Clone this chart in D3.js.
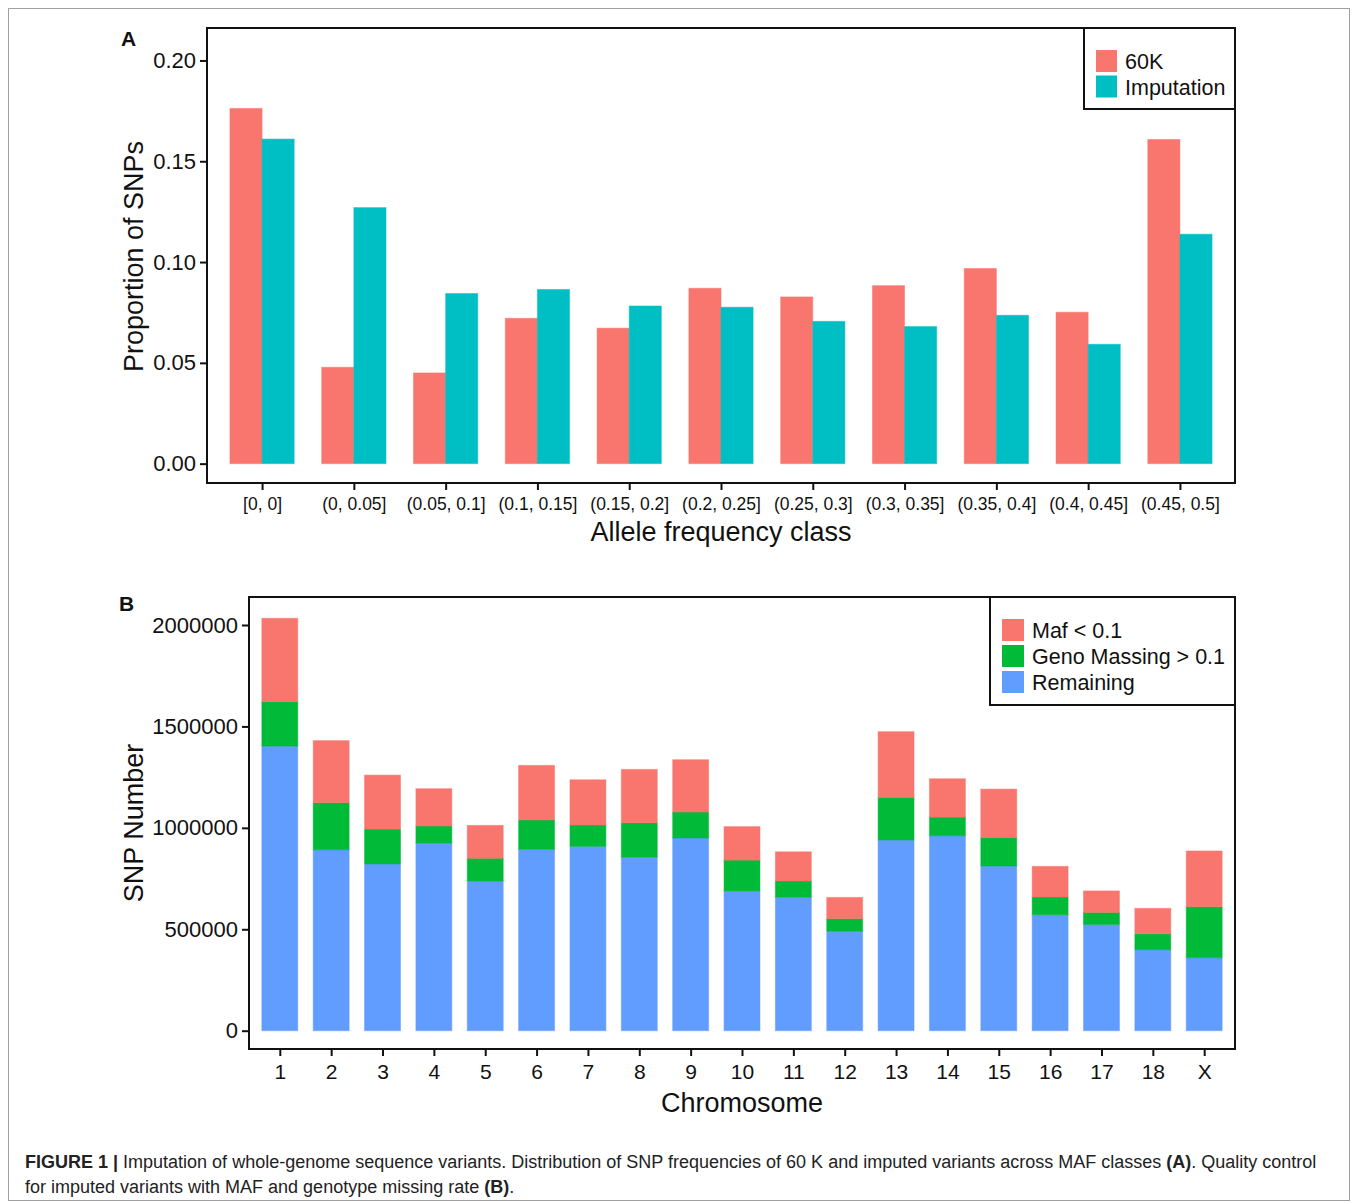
<!DOCTYPE html>
<html>
<head>
<meta charset="utf-8">
<script src="https://cdn.jsdelivr.net/npm/d3@7"></script>
<style>
  body { margin: 0; background: #fff; }
  text { font-family: "Liberation Sans", Arial, Helvetica, sans-serif; fill: #111; }
  .caption { font-family: "Liberation Sans Narrow", "Arial Narrow", "Liberation Sans", sans-serif; font-size: 18px; fill: #222; }
</style>
</head>
<body>
<svg id="fig" width="1358" height="1203"></svg>
<script>
// ---------- Panel A data ----------
const freqClasses = ['[0, 0]', '(0, 0.05]', '(0.05, 0.1]', '(0.1, 0.15]', '(0.15, 0.2]', '(0.2, 0.25]',
                     '(0.25, 0.3]', '(0.3, 0.35]', '(0.35, 0.4]', '(0.4, 0.45]', '(0.45, 0.5]'];
const chip60K = [0.1762, 0.0478, 0.0450, 0.0721, 0.0672, 0.0870, 0.0827, 0.0883, 0.0968, 0.0751, 0.1608];
const imputed = [0.1610, 0.1270, 0.0844, 0.0864, 0.0782, 0.0776, 0.0706, 0.0680, 0.0736, 0.0592, 0.1138];
const ticksA = [0, 0.05, 0.10, 0.15, 0.20];

// ---------- Panel B data ----------
const chromosomes = ['1','2','3','4','5','6','7','8','9','10','11','12','13','14','15','16','17','18','X'];
const remaining = [1403000, 892000, 822000, 925000, 738000, 894000, 909000, 856000, 950000, 689000,
                   659000, 490000, 940000, 961000, 812000, 572000, 524000, 399000, 360000];
const genoMissing = [219000, 232000, 172000, 84000, 112000, 145000, 105000, 169000, 128000, 152000,
                     79000, 62000, 210000, 92000, 140000, 87000, 59000, 79000, 251000];
const mafLow = [411000, 306000, 266000, 184000, 162000, 269000, 223000, 263000, 258000, 165000,
                144000, 105000, 324000, 189000, 239000, 151000, 106000, 125000, 275000];
const ticksB = [0, 500000, 1000000, 1500000, 2000000];

const RED = '#F8766D', TEAL = '#00BFC4', GREEN = '#00BA38', BLUE = '#619CFF';

const svg = d3.select('#fig');

// outer frame
svg.append('rect')
   .attr('x', 8.5).attr('y', 8.5).attr('width', 1341).attr('height', 1192)
   .attr('fill', 'none').attr('stroke', '#a0a0a0').attr('stroke-width', 1);

// discrete positions like ggplot: 0.6 unit expansion each side
function discreteScale(n, x0, x1) {
  return d3.scaleLinear().domain([-0.6, n - 1 + 0.6]).range([x0, x1]);
}

function drawFrame(g, x0, y0, x1, y1) {
  g.append('rect')
   .attr('x', x0).attr('y', y0).attr('width', x1 - x0).attr('height', y1 - y0)
   .attr('fill', 'none').attr('stroke', '#111').attr('stroke-width', 2);
}

/******************** Panel A ********************/
const A = {left: 207, right: 1235, top: 28, bottom: 483};
const xA = discreteScale(freqClasses.length, A.left, A.right);
const yA = d3.scaleLinear().domain([-0.0096, 0.2161]).range([A.bottom, A.top]);
const gA = svg.append('g');
const halfA = 0.35;

const seriesA = [{name: '60K', values: chip60K, color: RED, off: -halfA},
                 {name: 'Imputation', values: imputed, color: TEAL, off: 0}];
seriesA.forEach(s => {
  gA.selectAll(null).data(s.values).enter().append('rect')
    .attr('x', (d, i) => xA(i + s.off))
    .attr('width', xA(halfA) - xA(0))
    .attr('y', d => yA(d))
    .attr('height', d => yA(0) - yA(d))
    .attr('fill', s.color)
    .attr('stroke', s.color).attr('stroke-opacity', 0.5).attr('stroke-width', 1);
});

const axAy = gA.append('g').attr('transform', `translate(${A.left},0)`)
  .call(d3.axisLeft(yA).tickValues(ticksA).tickFormat(d3.format('.2f')).tickSize(7).tickSizeOuter(0).tickPadding(4));
const axAx = gA.append('g').attr('transform', `translate(0,${A.bottom})`)
  .call(d3.axisBottom(xA).tickValues(d3.range(freqClasses.length)).tickFormat(i => freqClasses[i])
        .tickSize(7).tickSizeOuter(0).tickPadding(8));
[axAy, axAx].forEach(a => {
  a.select('.domain').remove();
  a.selectAll('line').attr('stroke', '#111').attr('stroke-width', 2);
});
axAy.selectAll('text').style('font-size', '22px').attr('fill', '#111');
axAx.selectAll('text').style('font-size', '17.5px').attr('fill', '#111');
drawFrame(gA, A.left, A.top, A.right, A.bottom);

gA.append('text').attr('transform', `translate(143,${(A.top + A.bottom) / 2 + 1}) rotate(-90)`)
  .attr('text-anchor', 'middle').style('font-size', '27px').text('Proportion of SNPs');
gA.append('text').attr('x', (A.left + A.right) / 2).attr('y', 541)
  .attr('text-anchor', 'middle').style('font-size', '27px').text('Allele frequency class');
gA.append('text').attr('x', 121).attr('y', 46).style('font-size', '21px').style('font-weight', 'bold').text('A');

// legend A
const legA = gA.append('g');
legA.append('rect').attr('x', 1084).attr('y', 28).attr('width', 1235 - 1084).attr('height', 81)
    .attr('fill', '#fff').attr('stroke', '#111').attr('stroke-width', 2);
seriesA.forEach((s, i) => {
  legA.append('rect').attr('x', 1096).attr('y', 50 + i * 25.5).attr('width', 21).attr('height', 22)
      .attr('fill', s.color);
  legA.append('text').attr('x', 1125).attr('y', 69 + i * 25.5).style('font-size', '21.5px').text(s.name);
});

/******************** Panel B ********************/
const B = {left: 249, right: 1235, top: 597, bottom: 1049};
const xB = discreteScale(chromosomes.length, B.left, B.right);
const yB = d3.scaleLinear().domain([-90200, 2138000]).range([B.bottom, B.top]);
const gB = svg.append('g');
const halfB = 0.35;

const table = chromosomes.map((c, i) => ({chr: i, remaining: remaining[i], geno: genoMissing[i], maf: mafLow[i]}));
const stack = d3.stack().keys(['remaining', 'geno', 'maf'])(table);
const stackColors = {remaining: BLUE, geno: GREEN, maf: RED};

stack.forEach(layer => {
  gB.selectAll(null).data(layer).enter().append('rect')
    .attr('x', d => xB(d.data.chr - halfB))
    .attr('width', xB(halfB) - xB(-halfB))
    .attr('y', d => yB(d[1]))
    .attr('height', d => yB(d[0]) - yB(d[1]))
    .attr('fill', stackColors[layer.key])
    .attr('stroke', stackColors[layer.key]).attr('stroke-opacity', 0.5).attr('stroke-width', 1);
});

const axBy = gB.append('g').attr('transform', `translate(${B.left},0)`)
  .call(d3.axisLeft(yB).tickValues(ticksB).tickFormat(d3.format('d')).tickSize(7).tickSizeOuter(0).tickPadding(4));
const axBx = gB.append('g').attr('transform', `translate(0,${B.bottom})`)
  .call(d3.axisBottom(xB).tickValues(d3.range(chromosomes.length)).tickFormat(i => chromosomes[i])
        .tickSize(7).tickSizeOuter(0).tickPadding(8));
[axBy, axBx].forEach(a => {
  a.select('.domain').remove();
  a.selectAll('line').attr('stroke', '#111').attr('stroke-width', 2);
});
axBy.selectAll('text').style('font-size', '22px').attr('fill', '#111');
axBx.selectAll('text').style('font-size', '21px').attr('fill', '#111');
drawFrame(gB, B.left, B.top, B.right, B.bottom);

gB.append('text').attr('transform', `translate(143,${(B.top + B.bottom) / 2}) rotate(-90)`)
  .attr('text-anchor', 'middle').style('font-size', '27px').text('SNP Number');
gB.append('text').attr('x', (B.left + B.right) / 2).attr('y', 1112)
  .attr('text-anchor', 'middle').style('font-size', '27px').text('Chromosome');
gB.append('text').attr('x', 119).attr('y', 611).style('font-size', '21px').style('font-weight', 'bold').text('B');

// legend B
const legendB = [{name: 'Maf < 0.1', color: RED}, {name: 'Geno Massing > 0.1', color: GREEN}, {name: 'Remaining', color: BLUE}];
const legB = gB.append('g');
legB.append('rect').attr('x', 990).attr('y', 597).attr('width', 1235 - 990).attr('height', 108)
    .attr('fill', '#fff').attr('stroke', '#111').attr('stroke-width', 2);
legendB.forEach((s, i) => {
  legB.append('rect').attr('x', 1002).attr('y', 619 + i * 26).attr('width', 22).attr('height', 22)
      .attr('fill', s.color);
  legB.append('text').attr('x', 1032).attr('y', 638 + i * 26).style('font-size', '21.5px').text(s.name);
});

/******************** Caption ********************/
const cap1 = svg.append('text').attr('class', 'caption').attr('x', 25).attr('y', 1168);
cap1.append('tspan').style('font-weight', 'bold').text('FIGURE 1 | ');
cap1.append('tspan').text('Imputation of whole-genome sequence variants. Distribution of SNP frequencies of 60 K and imputed variants across MAF classes ');
cap1.append('tspan').style('font-weight', 'bold').text('(A)');
cap1.append('tspan').text('. Quality control');
const cap2 = svg.append('text').attr('class', 'caption').attr('x', 25).attr('y', 1193);
cap2.append('tspan').text('for imputed variants with MAF and genotype missing rate ');
cap2.append('tspan').style('font-weight', 'bold').text('(B)');
cap2.append('tspan').text('.');
</script>
</body>
</html>
